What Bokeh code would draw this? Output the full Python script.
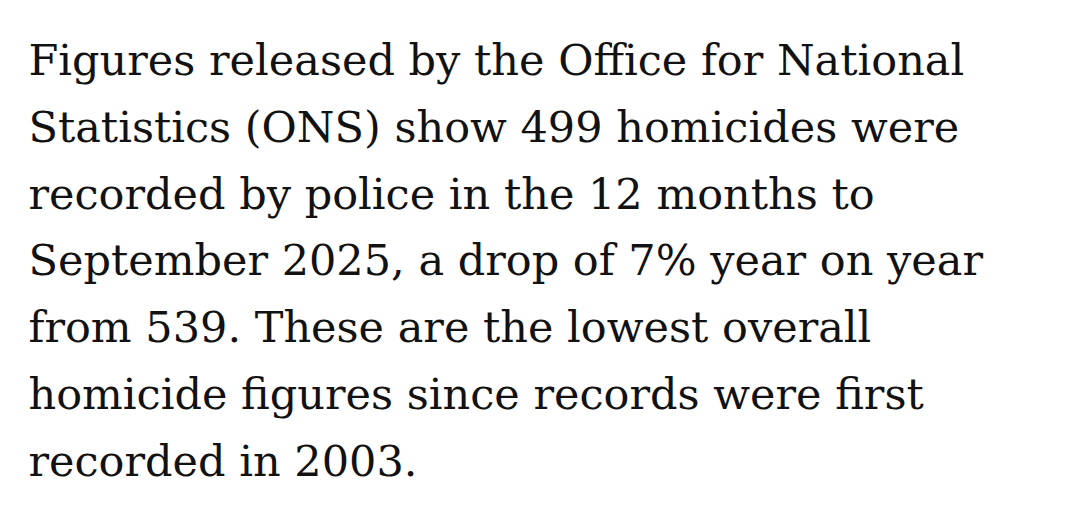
from bokeh.plotting import figure
from bokeh.models import ColumnDataSource, Range1d
from bokeh.core.properties import value
from bokeh.embed import file_html
from bokeh.resources import INLINE

lines = [
    "Figures released by the Office for National",
    "Statistics (ONS) show 499 homicides were",
    "recorded by police in the 12 months to",
    "September 2025, a drop of 7% year on year",
    "from 539. These are the lowest overall",
    "homicide figures since records were first",
    "recorded in 2003.",
]

W, H = 1064, 504
left = 28
first_baseline = 59.5
line_height = 66.8

src = ColumnDataSource(dict(
    x=[left] * len(lines),
    y=[first_baseline + i * line_height for i in range(len(lines))],
    text=lines,
))

p = figure(width=W, height=H, output_backend="svg", toolbar_location=None,
           x_range=Range1d(0, W), y_range=Range1d(H, 0), min_border=0)
p.axis.visible = False
p.grid.visible = False
p.outline_line_color = None
p.background_fill_color = "white"
p.border_fill_color = "white"

p.text(x="x", y="y", text="text", source=src,
       text_font=value("DejaVu Serif"), text_font_size="43px",
       text_color="#121212", text_baseline="alphabetic", text_align="left")

open("out.html", "w").write(file_html(p, INLINE))
